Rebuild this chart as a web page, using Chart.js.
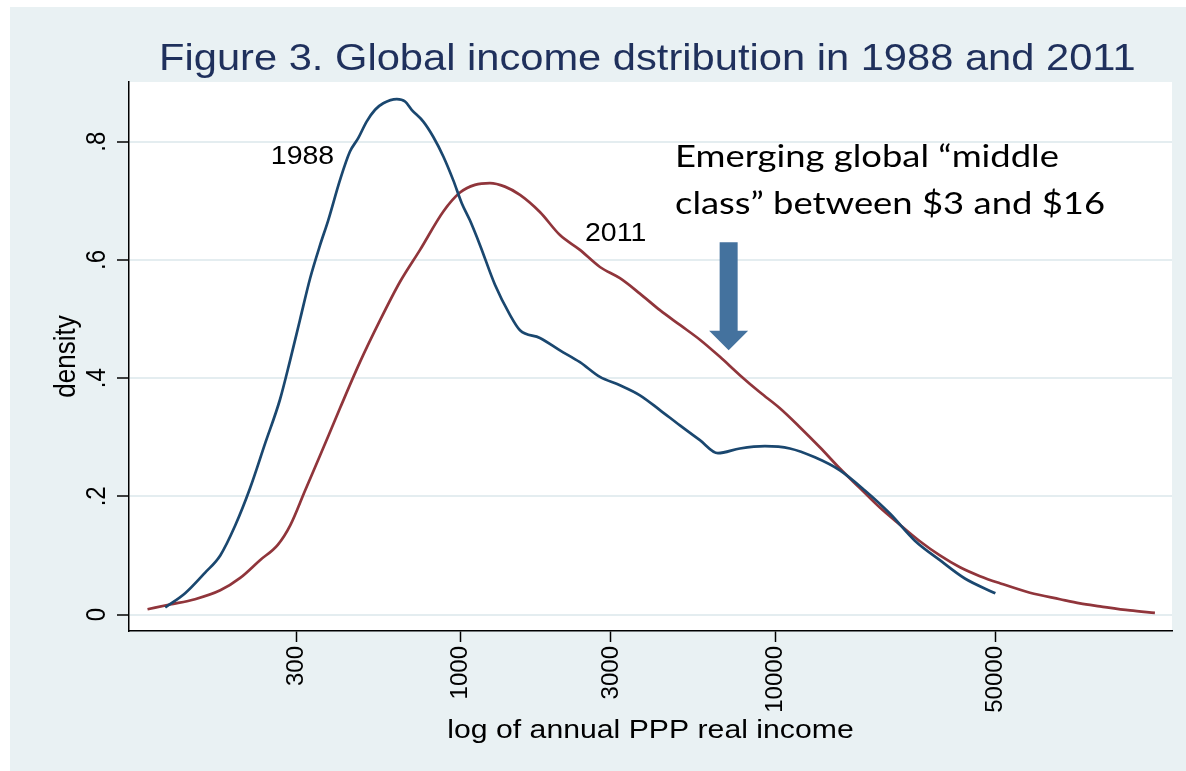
<!DOCTYPE html>
<html>
<head>
<meta charset="utf-8">
<script src="https://cdn.jsdelivr.net/npm/chart.js@4.4.1/dist/chart.umd.min.js"></script>
<style>
    html, body { margin: 0; padding: 0; background: #fff; }
    canvas { display: block; }
</style>
</head>
<body>
<canvas id="incomeChart" width="1186" height="771"></canvas>
<script>
// Values (income in annual PPP $, log axis)
const incomeTicks = [300, 1000, 3000, 10000, 50000];
const densityTicks = [0, 0.2, 0.4, 0.6, 0.8];

const income1988 = [115, 133, 154, 172, 192, 214, 239, 266, 287, 308, 332, 357, 379, 413, 444, 472, 502, 534, 567, 626,
    665, 698, 760, 818, 880, 946, 1007, 1069, 1151, 1284, 1433, 1542, 1784, 2066, 2391, 2768, 3204, 3709, 4294, 4971,
    5754, 6564, 7709, 9259, 11115, 13346, 16027, 19244, 23105, 27743, 33314, 39994, 50000];
const density1988 = [.012, .036, .071, .100, .151, .214, .290, .363, .431, .498, .569, .625, .667, .735, .783, .806, .834, .854, .865, .872,
    .868, .854, .834, .808, .775, .735, .696, .667, .625, .558, .507, .481, .468, .447, .427, .402, .388, .371, .346, .320,
    .295, .273, .281, .285, .281, .266, .244, .210, .171, .125, .092, .061, .036];

const income2011 = [101, 119, 143, 172, 199, 230, 262, 287, 320, 357, 413, 478, 554, 641, 742, 880, 994, 1109, 1238, 1381,
    1542, 1784, 2066, 2391, 2768, 3204, 3709, 4294, 4971, 5754, 6661, 7709, 8925, 10330, 11956, 13842, 16027, 18550, 21472, 24857,
    28775, 33314, 38580, 44660, 51700, 64400, 80200, 92860, 107500, 133900, 160700];
const density2011 = [.009, .017, .026, .041, .062, .092, .118, .151, .210, .269, .349, .427, .498, .563, .617, .682, .714, .727, .730, .724,
    .710, .681, .642, .617, .588, .569, .543, .515, .490, .465, .436, .405, .376, .349, .317, .283, .247, .214, .181, .152,
    .124, .100, .080, .065, .053, .037, .026, .019, .014, .007, .003];

// annotation anchors, in data units
const arrowIncome = 7100;
const arrowTop = 0.63, arrowHeadBase = 0.48, arrowTip = 0.447;

const SANS = '"Liberation Sans", Arial, sans-serif';
const CALLOUT = '31px Lato, "Open Sans", sans-serif';
const STRETCH = 1.14;   // the picture is stretched sideways

function putText(ctx, txt, x, y, o) {
    ctx.save();
    ctx.translate(x, y);
    ctx.scale(o.sx || 1, 1);
    if (o.rot) ctx.rotate(o.rot);
    ctx.font = o.font;
    ctx.fillStyle = o.color || '#000';
    ctx.textAlign = o.align || 'left';
    ctx.textBaseline = 'alphabetic';
    ctx.fillText(txt, 0, 0);
    ctx.restore();
}

const backdrop = {
    id: 'backdrop',
    beforeDraw(chart) {
        const { ctx, chartArea: a } = chart;
        ctx.save();
        ctx.fillStyle = '#fff';
        ctx.fillRect(0, 0, chart.width, chart.height);
        ctx.fillStyle = '#e9f1f3';
        ctx.fillRect(10, 7, chart.width - 10, chart.height - 7);
        ctx.fillStyle = '#fff';
        ctx.fillRect(a.left, a.top, a.right - a.left, a.bottom - a.top);
        ctx.restore();
    }
};

const annotations = {
    id: 'annotations',
    afterDraw(chart) {
        const { ctx, chartArea: a } = chart;
        const xs = chart.scales.x, ys = chart.scales.y;

        // title
        putText(ctx, 'Figure 3. Global income dstribution in 1988 and 2011', 159, 70,
            { font: '37px ' + SANS, color: '#1f305c', sx: 1.126 });

        // y tick labels, rotated
        densityTicks.forEach(v => {
            const label = v === 0 ? '0' : String(v).replace(/^0/, '');
            putText(ctx, label, 105, ys.getPixelForValue(v),
                { font: '24px ' + SANS, rot: -Math.PI / 2, align: 'center', sx: STRETCH });
        });

        // axis titles
        putText(ctx, 'density', 75, (a.top + a.bottom) / 2,
            { font: '26px ' + SANS, rot: -Math.PI / 2, align: 'center', sx: STRETCH });
        putText(ctx, 'log of annual PPP real income', (a.left + a.right) / 2, 738,
            { font: '26.5px ' + SANS, align: 'center', sx: STRETCH });

        // series labels
        putText(ctx, '1988', xs.getPixelForValue(249), ys.getPixelForValue(0.763),
            { font: '25px ' + SANS, sx: STRETCH });
        putText(ctx, '2011', xs.getPixelForValue(2481), ys.getPixelForValue(0.632),
            { font: '25px ' + SANS, sx: STRETCH });

        // callout text
        const line1 = 'Emerging global \u201Cmiddle';
        const line2 = 'class\u201D between $3 and $16';
        ctx.save();
        ctx.font = CALLOUT;
        const sx = 430 / ctx.measureText(line2).width;
        ctx.restore();
        const tx = xs.getPixelForValue(4795);
        putText(ctx, line1, tx, ys.getPixelForValue(0.757), { font: CALLOUT, sx });
        putText(ctx, line2, tx, ys.getPixelForValue(0.677), { font: CALLOUT, sx });

        // arrow
        const ax = xs.getPixelForValue(arrowIncome);
        const yTop = ys.getPixelForValue(arrowTop);
        const yBase = ys.getPixelForValue(arrowHeadBase);
        const yTip = ys.getPixelForValue(arrowTip);
        ctx.save();
        ctx.fillStyle = '#44729e';
        ctx.beginPath();
        ctx.moveTo(ax - 9, yTop);
        ctx.lineTo(ax + 9, yTop);
        ctx.lineTo(ax + 9, yBase);
        ctx.lineTo(ax + 19.5, yBase);
        ctx.lineTo(ax, yTip);
        ctx.lineTo(ax - 19.5, yBase);
        ctx.lineTo(ax - 9, yBase);
        ctx.closePath();
        ctx.fill();
        ctx.restore();
    }
};

const toPoints = (xs, ys) => xs.map((x, i) => ({ x: x, y: ys[i] }));

new Chart(document.getElementById('incomeChart').getContext('2d'), {
    type: 'line',
    data: {
        datasets: [{
            label: '1988',
            data: toPoints(income1988, density1988),
            borderColor: '#1a476f',
            borderWidth: 2.7,
            pointRadius: 0,
            fill: false,
            cubicInterpolationMode: 'monotone'
        }, {
            label: '2011',
            data: toPoints(income2011, density2011),
            borderColor: '#90353b',
            borderWidth: 2.7,
            pointRadius: 0,
            fill: false,
            cubicInterpolationMode: 'monotone'
        }]
    },
    options: {
        responsive: false,
        animation: false,
        devicePixelRatio: 1,
        layout: { padding: { top: 82, right: 14, left: 0, bottom: 0 } },
        plugins: {
            legend: { display: false },
            tooltip: { enabled: false },
            title: { display: false }
        },
        scales: {
            x: {
                type: 'logarithmic',
                bounds: 'data',
                min: 88.2,
                max: 182100,
                afterBuildTicks: s => { s.ticks = incomeTicks.map(v => ({ value: v })); },
                afterFit: s => { s.height = 140; },
                grid: { drawOnChartArea: false, drawTicks: true, tickLength: 11, tickColor: '#000', tickWidth: 1.5 },
                border: { display: true, color: '#000', width: 1.5 },
                ticks: {
                    autoSkip: false,
                    minRotation: 90,
                    maxRotation: 90,
                    padding: 4,
                    color: '#000',
                    font: { family: SANS, size: 24 },
                    callback: v => String(v)
                }
            },
            y: {
                bounds: 'data',
                min: -0.0278,
                max: 0.901,
                afterBuildTicks: s => { s.ticks = densityTicks.map(v => ({ value: v })); },
                afterFit: s => { s.width = 129; },
                grid: { color: '#e4edf0', lineWidth: 2, drawTicks: true, tickLength: 12, tickColor: '#000', tickWidth: 1.5 },
                border: { display: true, color: '#000', width: 1.5 },
                ticks: { display: false }
            }
        }
    },
    plugins: [backdrop, annotations]
});
</script>
</body>
</html>
